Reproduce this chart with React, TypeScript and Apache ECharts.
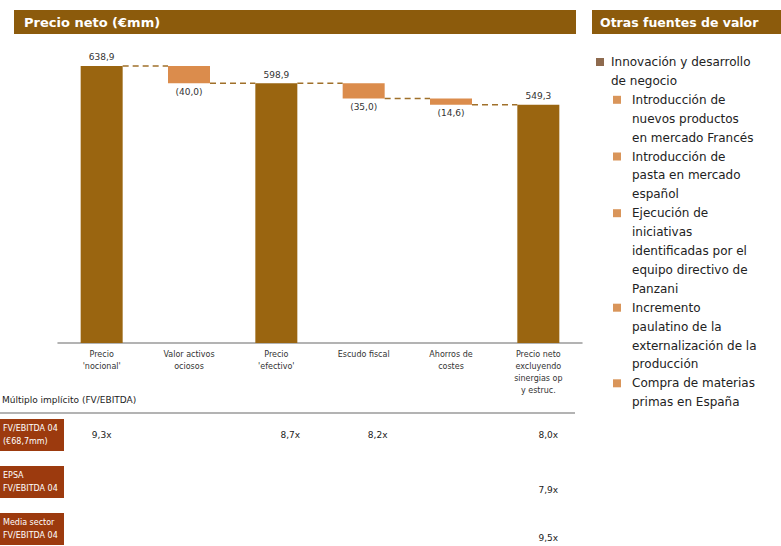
import React, { useEffect, useRef } from "react";
import * as echarts from "echarts";

const categories = [
  "Precio\n'nocional'",
  "Valor activos\nociosos",
  "Precio\n'efectivo'",
  "Escudo fiscal",
  "Ahorros de\ncostes",
  "Precio neto\nexcluyendo\nsinergias op\ny estruc.",
];
const values = [638.9, -40.0, 598.9, -35.0, -14.6, 549.3];
const isTotal = [true, false, true, false, false, true];

const multipleTitle = "Múltiplo implícito (FV/EBITDA)";
const multipleRowLabels = [
  ["FV/EBITDA 04", "(€68,7mm)"],
  ["EPSA", "FV/EBITDA 04"],
  ["Media sector", "FV/EBITDA 04"],
];
const multipleValues: (string | null)[][] = [
  ["9,3x", null, "8,7x", "8,2x", null, "8,0x"],
  [null, null, null, null, null, "7,9x"],
  [null, null, null, null, null, "9,5x"],
];

const rightTitle = "Otras fuentes de valor";
const leftTitle = "Precio neto (€mm)";
const sources: { level: number; lines: string[] }[] = [
  { level: 0, lines: ["Innovación y desarrollo", "de negocio"] },
  { level: 1, lines: ["Introducción de", "nuevos productos", "en mercado Francés"] },
  { level: 1, lines: ["Introducción de", "pasta en mercado", "español"] },
  { level: 1, lines: ["Ejecución de", "iniciativas", "identificadas por el", "equipo directivo de", "Panzani"] },
  { level: 1, lines: ["Incremento", "paulatino de la", "externalización de la", "producción"] },
  { level: 1, lines: ["Compra de materias", "primas en España"] },
];

const fmt = (v: number) => v.toFixed(1).replace(".", ",");

export default function App() {
  const ref = useRef<HTMLDivElement>(null);
  useEffect(() => {
    document.body.style.margin = "0";
    const chart = echarts.init(ref.current!, null, { renderer: "svg" });
    const FONT = "DejaVu Sans";
    const TOTAL = "#9A6510";
    const DELTA = "#DB8C4C";
    const TITLE_BG = "#8C5B0C";
    const BOX = "#9C3A0E";

    const base: number[] = [];
    const height: number[] = [];
    const levels: number[] = [];
    let running = 0;
    values.forEach((v, i) => {
      if (isTotal[i]) {
        base.push(0);
        height.push(v);
        running = v;
      } else {
        running = running + v;
        base.push(v < 0 ? running : running - v);
        height.push(Math.abs(v));
      }
      levels.push(running);
    });
    const connectors = levels.slice(0, -1).map((l, i) => [i, l]);

    const BAR_W = 42;

    const graphics: any[] = [];
    graphics.push({ type: "rect", shape: { x: 14, y: 10, width: 562, height: 24 }, style: { fill: TITLE_BG } });
    graphics.push({ type: "text", x: 24, y: 22, style: { text: leftTitle, fill: "#fff", font: `bold 13px "${FONT}"`, textVerticalAlign: "middle" } });
    graphics.push({ type: "rect", shape: { x: 592, y: 10, width: 189, height: 24 }, style: { fill: TITLE_BG } });
    graphics.push({ type: "text", x: 600, y: 22, style: { text: rightTitle, fill: "#fff", font: `bold 12.5px "${FONT}"`, textVerticalAlign: "middle" } });

    let ly = 62;
    const LH = 18.9;
    sources.forEach((s) => {
      const mx = s.level === 0 ? 596 : 613;
      const tx = s.level === 0 ? 611 : 632;
      graphics.push({ type: "rect", shape: { x: mx, y: ly - 4, width: 8, height: 8 }, style: { fill: s.level === 0 ? "#8E6A4E" : "#D9955A" } });
      s.lines.forEach((line, k) => {
        graphics.push({ type: "text", x: tx, y: ly + k * LH, style: { text: line, fill: "#222", font: `12px "${FONT}"`, textVerticalAlign: "middle" } });
      });
      ly += s.lines.length * LH;
    });

    graphics.push({ type: "text", x: 2, y: 400, style: { text: multipleTitle, fill: "#222", font: `9px "${FONT}"`, textVerticalAlign: "middle" } });
    graphics.push({ type: "line", shape: { x1: 0, y1: 413, x2: 575, y2: 413 }, style: { stroke: "#9a9a9a", lineWidth: 1.5 } });
    const rowTops = [419, 466, 513];
    rowTops.forEach((top, r) => {
      graphics.push({ type: "rect", shape: { x: 0, y: top, width: 64, height: 32 }, style: { fill: BOX } });
      multipleRowLabels[r].forEach((t, k) => {
        graphics.push({ type: "text", x: 3, y: top + 9 + k * 13, style: { text: t, fill: "#fff", font: `8px "${FONT}"`, textVerticalAlign: "middle" } });
      });
    });

    const option: any = {
      animation: false,
      grid: { left: 58, width: 524, top: 39.5, bottom: 203, containLabel: false },
      xAxis: {
        type: "category",
        data: categories,
        axisLine: { lineStyle: { color: "#9a9a9a", width: 1.5 } },
        axisTick: { show: false },
        axisLabel: { interval: 0, color: "#333", fontSize: 8, fontFamily: FONT, lineHeight: 12, margin: 5 },
      },
      yAxis: { type: "value", min: 0, max: 700, show: false, splitLine: { show: false } },
      series: [
        {
          type: "bar",
          stack: "w",
          data: base,
          barWidth: BAR_W,
          itemStyle: { color: "transparent" },
          silent: true,
        },
        {
          type: "bar",
          stack: "w",
          barWidth: BAR_W,
          data: height.map((h, i) => ({
            value: h,
            itemStyle: { color: isTotal[i] ? TOTAL : DELTA },
            label: {
              show: true,
              position: isTotal[i] ? "top" : "bottom",
              distance: 4,
              formatter: isTotal[i] ? fmt(values[i]) : `(${fmt(Math.abs(values[i]))})`,
              color: "#333",
              fontSize: 9,
              fontFamily: FONT,
            },
          })),
        },
        {
          type: "custom",
          data: connectors,
          renderItem: (params: any, api: any) => {
            const p = api.coord([api.value(0), api.value(1)]);
            const band = api.size([1, 0])[0];
            return {
              type: "line",
              shape: { x1: p[0] + BAR_W / 2, y1: p[1], x2: p[0] + band - BAR_W / 2, y2: p[1] },
              style: { stroke: "#A0702A", lineWidth: 1.5, lineDash: [6, 4] },
            };
          },
          z: 5,
        },
      ],
      graphic: graphics,
    };
    chart.setOption(option);

    const rowY = [435, 490, 538];
    const valueOffsets = [0, 0, 14, 14, 0, 10];
    const extra: any[] = [];
    multipleValues.forEach((row, r) => {
      row.forEach((v, c) => {
        if (!v) return;
        const px = chart.convertToPixel({ xAxisIndex: 0 }, c) as number;
        extra.push({ type: "text", x: px + valueOffsets[c], y: rowY[r], style: { text: v, fill: "#222", font: `9px "${FONT}"`, textAlign: "center", textVerticalAlign: "middle" } });
      });
    });
    chart.setOption({ graphic: graphics.concat(extra) });

    return () => chart.dispose();
  }, []);
  return <div ref={ref} style={{ width: 781, height: 546 }} />;
}
